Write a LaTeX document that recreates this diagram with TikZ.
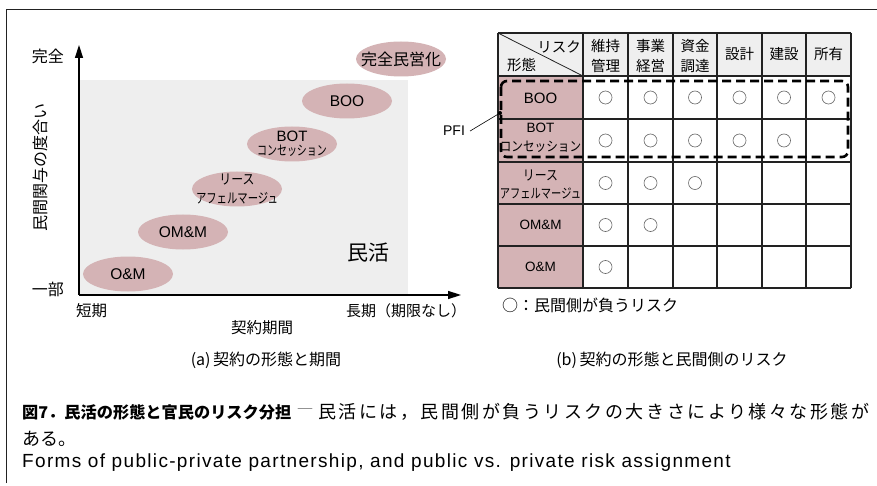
\documentclass[tikz,border=0pt]{standalone}
\usepackage{fontspec}
\setmainfont{Noto Sans CJK JP}
\newfontfamily\lat{Liberation Sans}
\newfontfamily\latsp[LetterSpace=7]{Liberation Sans}
\newfontfamily\jpsp[LetterSpace=14]{Noto Sans CJK JP}
\usetikzlibrary{arrows.meta,shapes.geometric}
\definecolor{pinkfill}{HTML}{D4B3B5}
\definecolor{grayarea}{HTML}{EEEEEE}
\definecolor{headfill}{HTML}{EFEFEF}
\definecolor{linecol}{HTML}{222222}
\newcommand{\fsz}[2]{\fontsize{#1pt}{#2pt}\selectfont}
\newcommand{\cnd}[2]{\scalebox{#1}[1]{#2}}
\begin{document}
\begin{tikzpicture}[x=1pt,y=-1pt,
  oval/.style={ellipse,fill=pinkfill,minimum width=90pt,minimum height=35pt,inner sep=0pt},
  lbl/.style={inner sep=0pt,align=center},
  axisline/.style={line width=1.5pt,draw=black,-{Triangle[length=13pt,width=8pt]}},
  gridline/.style={line width=1.1pt,draw=linecol},
  riskmark/.style={draw=black!60,line width=0.6pt},
  pfibox/.style={line width=2.6pt,dash pattern=on 9pt off 5pt,rounded corners=6pt}]
\useasboundingbox (0,0) rectangle (877,486);
\fill[white] (0,0) rectangle (877,486);
% frame
\draw[linecol,line width=0.9pt] (6,483) -- (6,9.5) -- (877,9.5);

% ---------- (a) chart ----------
\fill[grayarea] (79,80) rectangle (408,295);
\coordinate (org) at (79,295);
\coordinate (ytip) at (79,45);
\coordinate (xtip) at (461,295);
\draw[axisline] (org) -- (ytip);
\draw[axisline] (org) -- (xtip);

\node[lbl,font=\fsz{16}{16},anchor=east] (full) at (64,56) {完全};
\node[lbl,font=\fsz{16}{16},anchor=east] (part) at (64,289) {一部};
\node[lbl,font=\fsz{16}{16},rotate=90] (ylab) at (40,168) {民間関与の度合い};
\node[lbl,font=\fsz{15.5}{16}] (short) at (91.5,311) {短期};
\node[lbl,font=\fsz{15}{16}] (long) at (406,311) {長期（期限なし）};
\node[lbl,font=\fsz{15.5}{16}] (xlab) at (262,328) {契約期間};

\node[oval] (e-full) at (401,59) {};
\node[lbl,font=\fsz{16}{16}] (t-full) at (e-full) {完全民営化};
\node[oval] (e-boo) at (347,101) {};
\node[lbl,font=\lat\fsz{15.5}{16}] (t-boo) at (e-boo) {BOO};
\node[oval] (e-bot) at (292,144) {};
\node[lbl,font=\lat\fsz{15}{15}] (t-bot1) at (292,136) {BOT};
\node[lbl,font=\fsz{13.5}{14}] (t-bot2) at (292,151) {\cnd{0.74}{コンセッション}};
\node[oval] (e-lease) at (237,189) {};
\node[lbl,font=\fsz{14}{14}] (t-lease1) at (237,179) {\cnd{0.85}{リース}};
\node[lbl,font=\fsz{14}{14}] (t-lease2) at (237,198) {\cnd{0.74}{アフェルマージュ}};
\node[oval] (e-omm) at (183,232) {};
\node[lbl,font=\lat\fsz{15.5}{16}] (t-omm) at (e-omm) {OM\&M};
\node[oval] (e-om) at (128,274) {};
\node[lbl,font=\lat\fsz{15.5}{16}] (t-om) at (e-om) {O\&M};
\node[lbl,font=\fsz{21}{21}] (minkatsu) at (368,253) {民活};

% ---------- (b) table ----------
\fill[headfill] (498,33) rectangle (851,76);
\fill[pinkfill] (498,76) rectangle (583,288);
\foreach \x in {498,583,628,673,717,762,806,851}
  \draw[gridline] (\x,33) -- (\x,288);
\foreach \y in {33,76,119,162,204,246,288}
  \draw[gridline] (498,\y) -- (851,\y);
\draw[linecol,line width=0.8pt] (498,33) -- (583,76);

\node[lbl,font=\fsz{14.5}{14.5},anchor=east] (h-risk) at (581,47) {リスク};
\node[lbl,font=\fsz{14.5}{14.5},anchor=west] (h-form) at (507,65) {形態};
\node[lbl,font=\fsz{14.5}{19.5}] (h1) at (605.5,56) {維持\\管理};
\node[lbl,font=\fsz{14.5}{19.5}] (h2) at (650.5,56) {事業\\経営};
\node[lbl,font=\fsz{14.5}{19.5}] (h3) at (695,56) {資金\\調達};
\node[lbl,font=\fsz{14.5}{14.5}] (h4) at (739.5,54.5) {設計};
\node[lbl,font=\fsz{14.5}{14.5}] (h5) at (784,54.5) {建設};
\node[lbl,font=\fsz{14.5}{14.5}] (h6) at (828.5,54.5) {所有};

\node[lbl,font=\lat\fsz{15}{15}] (r1) at (540.5,98) {BOO};
\node[lbl,font=\lat\fsz{13.5}{13.5}] (r2a) at (540.5,128) {BOT};
\node[lbl,font=\fsz{13.5}{14}] (r2b) at (540.5,147) {\cnd{0.86}{コンセッション}};
\node[lbl,font=\fsz{14}{14}] (r3a) at (540.5,175) {\cnd{0.85}{リース}};
\node[lbl,font=\fsz{13.5}{14}] (r3b) at (540.5,193) {\cnd{0.76}{アフェルマージュ}};
\node[lbl,font=\lat\fsz{13.5}{14}] (r4) at (540.5,225) {OM\&M};
\node[lbl,font=\lat\fsz{13.5}{14}] (r5) at (540.5,267) {O\&M};

\foreach \c in {605.5,650.5,695,739.5,784,828.5} \draw[riskmark] (\c,97.5) circle (6.5);
\foreach \c in {605.5,650.5,695,739.5,784} \draw[riskmark] (\c,140.5) circle (6.5);
\foreach \c in {605.5,650.5,695} \draw[riskmark] (\c,183) circle (6.5);
\foreach \c in {605.5,650.5} \draw[riskmark] (\c,225) circle (6.5);
\foreach \c in {605.5} \draw[riskmark] (\c,267) circle (6.5);

\draw[pfibox] (501,81) rectangle (848,157);
\coordinate (pfidot) at (500,113);
\node[lbl,font=\lat\fsz{14}{14}] (pfi) at (454,131) {PFI};
\draw[line width=0.6pt] ([xshift=5pt]pfi.east) -- (pfidot);
\fill (pfidot) circle (2);

\node[lbl,font=\fsz{16}{16},anchor=west] (legend) at (502,305) {○：民間側が負うリスク};

% ---------- captions ----------
\node[lbl,font=\fsz{16}{16}] (cap-a) at (266,360) {(a)\,契約の形態と期間};
\node[lbl,font=\fsz{16}{16}] (cap-b) at (672,360) {(b)\,契約の形態と民間側のリスク};

\node[lbl,font=\fsz{16.2}{16.2}\bfseries,anchor=west] (fig-title) at (22,412) {図7．民活の形態と官民のリスク分担};
\node[lbl,font=\fsz{17}{17},text=black!60] (fig-dash) at (305,412) {―};
\node[lbl,font=\jpsp\fsz{18}{18},anchor=west] (fig-text1) at (318,412) {民活には，民間側が負うリスクの大きさにより様々な形態が};
\node[lbl,font=\fsz{18}{18},anchor=west] (fig-text2) at (22,439) {ある。};
\node[lbl,font=\latsp\fsz{19}{19},anchor=west] (fig-en) at (22,463) {Forms of public-private partnership, and public vs. private risk assignment};
\end{tikzpicture}
\end{document}
